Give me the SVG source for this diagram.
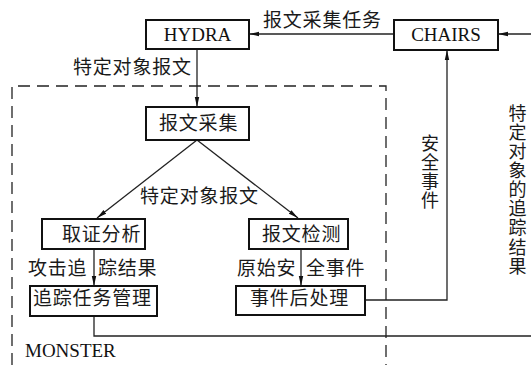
<svg xmlns="http://www.w3.org/2000/svg" width="531" height="365" viewBox="0 0 531 365">
<style>
.box{fill:#fff;stroke:#111;stroke-width:2}
.ln{fill:none;stroke:#222;stroke-width:1.3}
.dash{fill:none;stroke:#222;stroke-width:1.3;stroke-dasharray:12 7}
.cn{font-family:"Noto Sans CJK SC",sans-serif;font-size:19px;fill:#1a1a1a;letter-spacing:0.8px}
.vt{font-family:"Noto Sans CJK SC",sans-serif;font-size:18px;fill:#1a1a1a;writing-mode:vertical-rl;text-orientation:upright;letter-spacing:1.1px}
.en{font-family:"Liberation Serif",serif;font-size:19px;fill:#111}
</style>
<defs>
<marker id="ah" viewBox="0 0 10 6" refX="10" refY="3" markerWidth="10" markerHeight="6" markerUnits="userSpaceOnUse" orient="auto">
<path d="M0,0.8 L10,3 L0,5.2 Z" fill="#111"/>
</marker>
</defs>
<rect x="0" y="0" width="531" height="365" fill="#fff"/>
<g id="monster-boundary">
<path class="dash" d="M12,365 L12,86 L386,86 L386,365"/>
<text class="en" x="25" y="357">MONSTER</text>
</g>
<g id="connectors">
<path class="ln" d="M531,34 L498,34" marker-end="url(#ah)"/>
<path class="ln" d="M394,34 L249,34" marker-end="url(#ah)"/>
<path class="ln" d="M197,49 L197,107" marker-end="url(#ah)"/>
<path class="ln" d="M197,140 L97,218" marker-end="url(#ah)"/>
<path class="ln" d="M197,140 L298,218" marker-end="url(#ah)"/>
<path class="ln" d="M94,249 L94,286" marker-end="url(#ah)"/>
<path class="ln" d="M301,249 L301,286" marker-end="url(#ah)"/>
<path class="ln" d="M365,300 L447,300 L447,50" marker-end="url(#ah)"/>
<path class="ln" d="M94,316 L94,336 L531,336"/>
<text class="cn" x="263" y="27">报文采集任务</text>
<text class="cn" x="73" y="74">特定对象报文</text>
<text class="cn" x="140" y="203">特定对象报文</text>
<text class="cn" x="28" y="275">攻击追</text>
<text class="cn" x="98" y="275">踪结果</text>
<text class="cn" x="237" y="275">原始安</text>
<text class="cn" x="306" y="275">全事件</text>
<text class="vt" x="430" y="134">安全事件</text>
<text class="vt" x="517.5" y="104">特定对象的追踪结果</text>
</g>
<g id="hydra">
<rect class="box" x="146" y="20" width="103" height="29"/>
<text class="en" x="197.5" y="41" text-anchor="middle">HYDRA</text>
</g>
<g id="chairs">
<rect class="box" x="394" y="20" width="104" height="30"/>
<text class="en" x="446" y="41" text-anchor="middle">CHAIRS</text>
</g>
<g id="baowen-caiji">
<rect class="box" x="146" y="107" width="103" height="33"/>
<text class="cn" x="159" y="130">报文采集</text>
</g>
<g id="quzheng-fenxi">
<rect class="box" x="42" y="219" width="103" height="30"/>
<text class="cn" x="62" y="241">取证分析</text>
</g>
<g id="baowen-jiance">
<rect class="box" x="249" y="219" width="99" height="30"/>
<text class="cn" x="262" y="241">报文检测</text>
</g>
<g id="zhuizong-renwu-guanli">
<rect class="box" x="30" y="286" width="127" height="30"/>
<text class="cn" x="33" y="305">追踪任务管理</text>
</g>
<g id="shijian-houchuli">
<rect class="box" x="236" y="286" width="129" height="29"/>
<text class="cn" x="250" y="305">事件后处理</text>
</g>
</svg>
